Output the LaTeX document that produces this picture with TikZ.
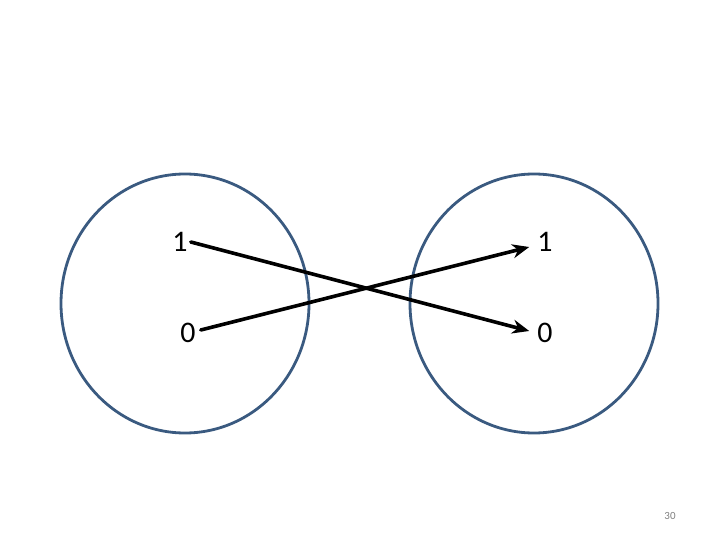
\documentclass[tikz,border=0pt]{standalone}
\usepackage{fontspec}
\setmainfont{Carlito}
\usetikzlibrary{arrows.meta,shapes.geometric}

\definecolor{setblue}{RGB}{58,90,128}

\begin{document}
\begin{tikzpicture}[
  x=1bp,y=-1bp,
  set/.style={draw=setblue,line width=2.8bp,ellipse,minimum width=248bp,minimum height=259bp,inner sep=0pt},
  bit/.style={font=\fontsize{30}{30}\selectfont,inner sep=3bp},
  arr/.style={-{Stealth[length=17bp,width=14bp]},line width=3.6bp,line cap=round}
]
  \useasboundingbox (0,0) rectangle (720,540);
  \node[set] (left) at (185,303.5) {};
  \node[set] (right) at (534,303.5) {};
  \node[bit] (l1) at (180,242) {1};
  \node[bit,inner sep=5bp] (l0) at (188,333) {0};
  \node[bit,inner sep=8bp] (r1) at (545,242) {1};
  \node[bit,inner sep=8bp] (r0) at (545,333) {0};
  \draw[arr] (l1.east) -- ([yshift=2bp]r0.west);
  \draw[arr] ([yshift=3bp]l0.east) -- ([yshift=-5bp]r1.west);
  \node[font=\fontsize{11}{11}\selectfont,text=gray] (page) at (670,516) {30};
\end{tikzpicture}
\end{document}
